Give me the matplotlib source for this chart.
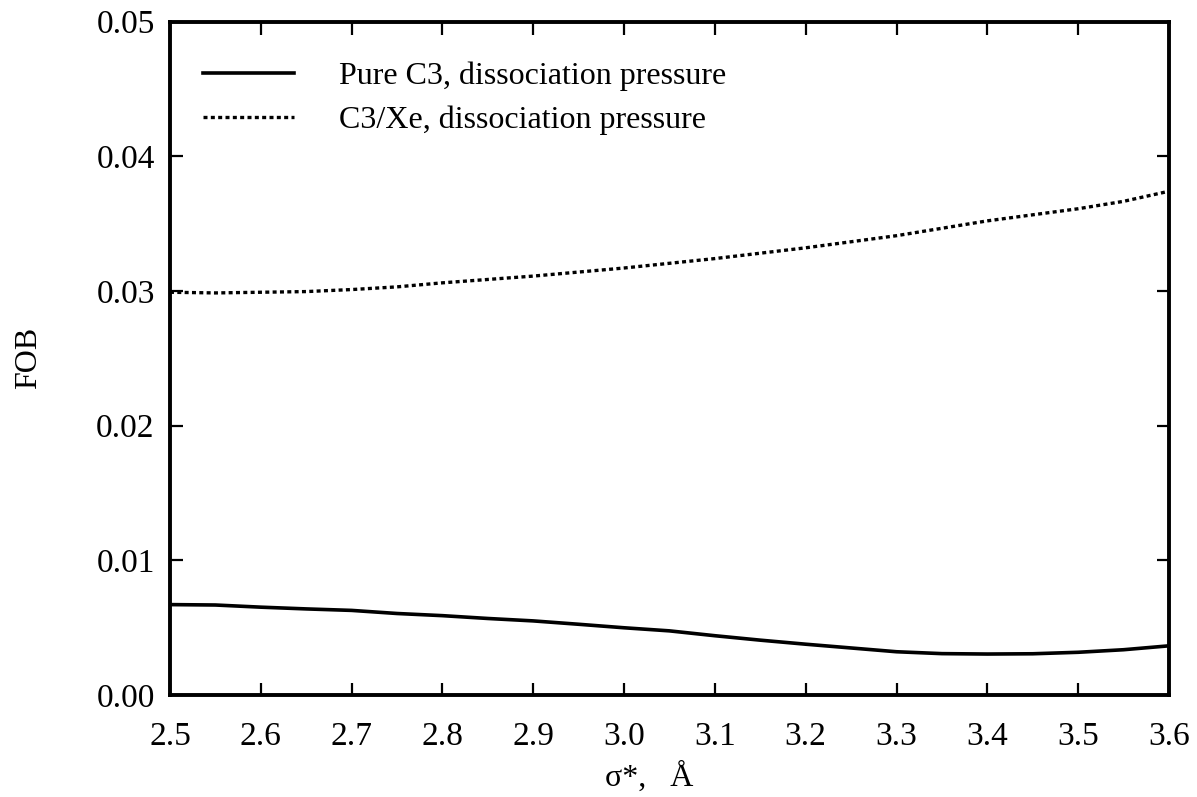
import matplotlib
matplotlib.use("Agg")
import matplotlib.pyplot as plt
from matplotlib.ticker import MultipleLocator, FormatStrFormatter

plt.rcParams['font.family'] = ['Liberation Serif', 'DejaVu Serif']

# sigma* grid (Angstrom)
sigma = [2.50, 2.55, 2.60, 2.65, 2.70, 2.75, 2.80, 2.85, 2.90, 2.95, 3.00, 3.05,
         3.10, 3.15, 3.20, 3.25, 3.30, 3.35, 3.40, 3.45, 3.50, 3.55, 3.60]

# Objective function for pure C3 at dissociation pressure
fob_pure_c3 = [0.00671, 0.00668, 0.00652, 0.00639, 0.00628, 0.00605, 0.00589, 0.00568,
               0.00550, 0.00525, 0.00499, 0.00476, 0.00440, 0.00407, 0.00377, 0.00349,
               0.00321, 0.00307, 0.00304, 0.00306, 0.00317, 0.00336, 0.00365]

# Objective function for the C3/Xe mixture at dissociation pressure
fob_c3_xe = [0.02990, 0.02985, 0.02990, 0.02995, 0.03010, 0.03030, 0.03060, 0.03085,
             0.03110, 0.03140, 0.03170, 0.03205, 0.03240, 0.03280, 0.03320, 0.03365,
             0.03410, 0.03465, 0.03520, 0.03565, 0.03610, 0.03665, 0.03740]

labels = ["Pure C3, dissociation pressure", "C3/Xe, dissociation pressure"]

fig = plt.figure(figsize=(11.97, 7.97), dpi=100)
ax = fig.add_axes([0.142, 0.128, 0.8346, 0.845])

ax.plot(sigma, fob_pure_c3, color='black', lw=2.6, label=labels[0])
ax.plot(sigma, fob_c3_xe, color='black', lw=2.4, linestyle=(0, (1.2, 1.0)), label=labels[1])

ax.set_xlim(2.5, 3.6)
ax.set_ylim(0.0, 0.05)
ax.xaxis.set_major_locator(MultipleLocator(0.1))
ax.yaxis.set_major_locator(MultipleLocator(0.01))
ax.xaxis.set_major_formatter(FormatStrFormatter('%.1f'))
ax.yaxis.set_major_formatter(FormatStrFormatter('%.2f'))

for s in ax.spines.values():
    s.set_linewidth(2.8)

ax.tick_params(axis='both', which='major', direction='in', length=9, width=1.6,
               top=True, right=True, labelsize=24)
ax.tick_params(axis='x', pad=19)
ax.tick_params(axis='y', pad=11)

ax.set_xlabel("σ*,   Å", fontsize=23, va='center')
ax.xaxis.set_label_coords(0.48, -0.122)
ax.set_ylabel("FOB", fontsize=23)
ax.yaxis.set_label_coords(-0.127, 0.5)

leg = ax.legend(loc='upper left', bbox_to_anchor=(0.033, 0.94), frameon=False,
                fontsize=23, handlelength=2.85, handletextpad=1.4,
                labelspacing=0.45, borderaxespad=0.0, borderpad=0.0)

fig.savefig("out.png", dpi=100)
